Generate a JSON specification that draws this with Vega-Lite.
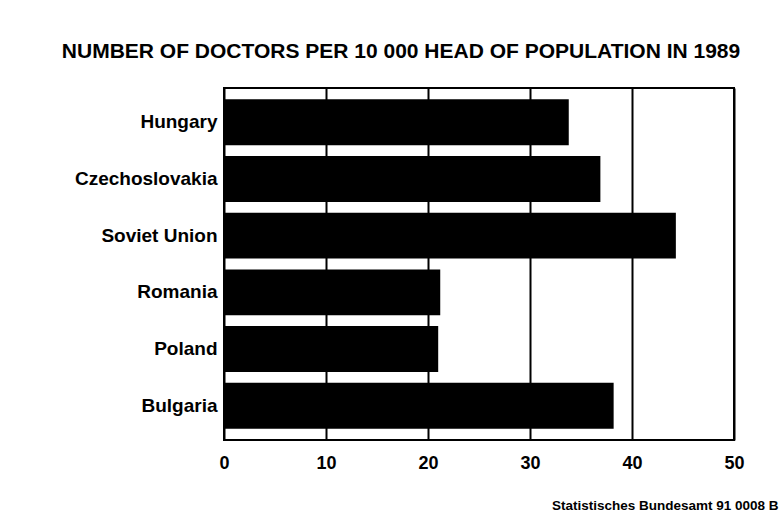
{
  "$schema": "https://vega.github.io/schema/vega-lite/v6.json",
  "width": 510,
  "height": 352,
  "autosize": {"type": "none"},
  "padding": {"left": 224, "top": 88, "right": 50, "bottom": 91},
  "background": "white",
  "title": {
    "text": "NUMBER OF DOCTORS PER 10 000 HEAD OF POPULATION IN 1989",
    "anchor": "middle",
    "dx": -78,
    "offset": 26,
    "fontSize": 21,
    "font": "Liberation Sans, Arial",
    "fontWeight": "bold",
    "color": "black"
  },
  "data": {
    "values": [
      {"country": "Hungary", "doctors": 33.8},
      {"country": "Czechoslovakia", "doctors": 36.9},
      {"country": "Soviet Union", "doctors": 44.3},
      {"country": "Romania", "doctors": 21.2},
      {"country": "Poland", "doctors": 21.0},
      {"country": "Bulgaria", "doctors": 38.2}
    ]
  },
  "mark": {"type": "bar", "color": "black"},
  "encoding": {
    "y": {
      "field": "country",
      "type": "nominal",
      "sort": null,
      "scale": {"paddingInner": 0.19, "paddingOuter": 0.2},
      "axis": {
        "title": null,
        "domain": false,
        "ticks": false,
        "labelPadding": 7,
        "labelFontSize": 19,
        "labelFont": "Liberation Sans, Arial",
        "labelFontWeight": "bold",
        "labelColor": "black"
      }
    },
    "x": {
      "field": "doctors",
      "type": "quantitative",
      "scale": {"domain": [0, 50], "nice": false},
      "axis": {
        "values": [0, 10, 20, 30, 40, 50],
        "domain": false,
        "ticks": false,
        "grid": true,
        "gridColor": "black",
        "gridWidth": 2,
        "gridOpacity": 1,
        "labelPadding": 14,
        "labelFontSize": 18,
        "labelFont": "Liberation Sans, Arial",
        "labelFontWeight": "bold",
        "labelColor": "black",
        "labelFlush": false,
        "title": "Statistisches Bundesamt 91 0008 B",
        "titleFontSize": 13.5,
        "titleFont": "Liberation Sans, Arial",
        "titleFontWeight": "bold",
        "titleColor": "black",
        "titleAlign": "right",
        "titleAnchor": null,
        "titleX": 554,
        "titleY": 58
      }
    }
  },
  "config": {
    "view": {"stroke": "black", "strokeWidth": 2}
  }
}
